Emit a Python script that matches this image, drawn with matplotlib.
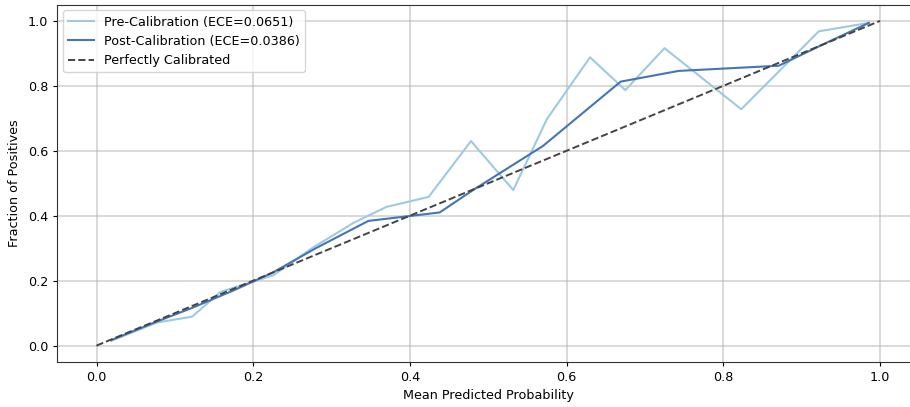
import matplotlib
matplotlib.use("Agg")
import matplotlib.pyplot as plt

pre_x = [0.019, 0.077, 0.122, 0.158, 0.226, 0.275, 0.328, 0.370, 0.424, 0.478, 0.532, 0.575, 0.630, 0.675, 0.725, 0.823, 0.922, 0.986]
pre_y = [0.015, 0.071, 0.089, 0.165, 0.217, 0.300, 0.378, 0.427, 0.458, 0.630, 0.479, 0.698, 0.888, 0.787, 0.916, 0.728, 0.968, 0.994]

post_x = [0.019, 0.075, 0.122, 0.175, 0.225, 0.280, 0.347, 0.438, 0.480, 0.570, 0.669, 0.743, 0.871, 0.925, 0.986]
post_y = [0.017, 0.072, 0.116, 0.170, 0.225, 0.300, 0.384, 0.410, 0.478, 0.615, 0.813, 0.846, 0.862, 0.925, 0.994]

pre_label = "Pre-Calibration (ECE=0.0651)"
post_label = "Post-Calibration (ECE=0.0386)"
perfect_label = "Perfectly Calibrated"

fs = 9.2
fig = plt.figure(figsize=(9.1, 4.07), dpi=100)
ax = fig.add_axes([0.063, 0.111, 0.947, 0.8775])

ax.plot(pre_x, pre_y, color="#9ecae1", lw=1.5, label=pre_label)
ax.plot(post_x, post_y, color="#4575b4", lw=1.5, label=post_label)
ax.plot([0, 1], [0, 1], ls="--", color="#444444", lw=1.4, label=perfect_label)

ax.set_xlim(-0.05, 1.05)
ax.set_ylim(-0.05, 1.05)
ax.set_xticks([0.0, 0.2, 0.4, 0.6, 0.8, 1.0])
ax.set_yticks([0.0, 0.2, 0.4, 0.6, 0.8, 1.0])
ax.grid(True, color="#b0b0b0", alpha=0.6, lw=1.1)
ax.set_axisbelow(True)
ax.set_xlabel("Mean Predicted Probability", fontsize=fs, labelpad=3.5)
ax.set_ylabel("Fraction of Positives", fontsize=fs, labelpad=5)
ax.tick_params(labelsize=fs, length=3.2, width=0.8)
for s in ax.spines.values():
    s.set_color("#333333")
ax.legend(loc="upper left", fontsize=fs, framealpha=0.8, borderaxespad=0.45)

fig.savefig("out.png", dpi=100)
